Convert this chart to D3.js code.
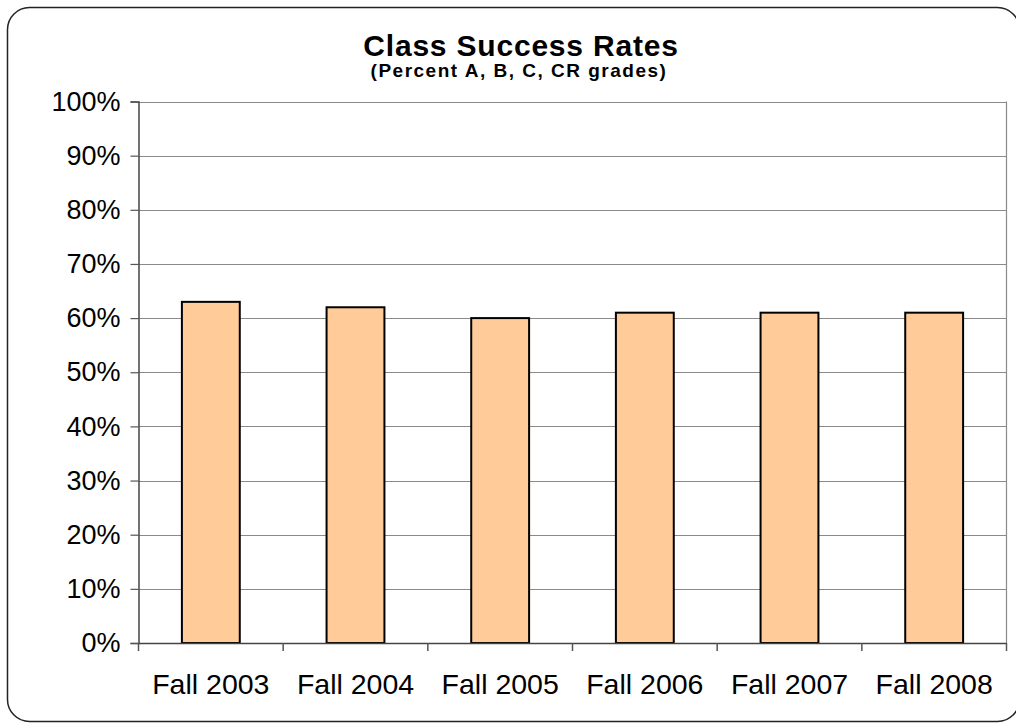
<!DOCTYPE html>
<html>
<head>
<meta charset="utf-8">
<script src="https://cdn.jsdelivr.net/npm/d3@7"></script>
<style>
  html, body { margin: 0; padding: 0; background: #fff; }
  svg { display: block; font-family: "Liberation Sans", Arial, Helvetica, sans-serif; }
</style>
</head>
<body>
<svg id="chart" width="1016" height="723"></svg>
<script>
const categories = ["Fall 2003", "Fall 2004", "Fall 2005", "Fall 2006", "Fall 2007", "Fall 2008"];
const successRates = [0.63, 0.62, 0.60, 0.61, 0.61, 0.61];
const yTicks = [0, 0.1, 0.2, 0.3, 0.4, 0.5, 0.6, 0.7, 0.8, 0.9, 1.0];
const titleText = "Class Success Rates";
const subtitleText = "(Percent A, B, C, CR grades)";

const svg = d3.select("#chart");
const plot = { left: 138.5, right: 1006.5, top: 101.5, bottom: 643 };

// outer rounded frame
svg.append("rect")
  .attr("x", 7.5).attr("y", 7.5)
  .attr("width", 1012).attr("height", 714)
  .attr("rx", 22).attr("ry", 22)
  .attr("fill", "#fff").attr("stroke", "#222").attr("stroke-width", 1.5);

const x = d3.scaleBand().domain(categories)
  .range([plot.left, plot.right]).paddingInner(0.6).paddingOuter(0.3);
const xOuter = d3.scaleBand().domain(categories)
  .range([plot.left, plot.right]).padding(0);
const y = d3.scaleLinear().domain([0, 1]).range([plot.bottom, plot.top]);

// gridlines
svg.append("g").selectAll("line").data(yTicks.filter(d => d > 0)).join("line")
  .attr("x1", plot.left).attr("x2", plot.right)
  .attr("y1", d => Math.round(y(d)) + 0.5).attr("y2", d => Math.round(y(d)) + 0.5)
  .attr("stroke", "#8a8a8a").attr("stroke-width", 1.2);

// right border of plot area
svg.append("line")
  .attr("x1", plot.right).attr("x2", plot.right)
  .attr("y1", plot.top).attr("y2", plot.bottom)
  .attr("stroke", "#8a8a8a").attr("stroke-width", 1.2);

// bars
svg.append("g").selectAll("rect").data(successRates).join("rect")
  .attr("x", (d, i) => x(categories[i]))
  .attr("y", d => y(d))
  .attr("width", x.bandwidth())
  .attr("height", d => y(0) - y(d))
  .attr("fill", "#FFCC99")
  .attr("stroke", "#000").attr("stroke-width", 2);

// y axis
const yAxis = d3.axisLeft(y).tickValues(yTicks).tickFormat(d3.format(".0%"))
  .tickSize(8).tickPadding(10);
const gy = svg.append("g").attr("transform", `translate(${plot.left},0)`).call(yAxis);
gy.select(".domain").attr("stroke", "#444").attr("stroke-width", 1.5);
gy.selectAll(".tick line").attr("stroke", "#555").attr("stroke-width", 1.2);
gy.selectAll(".tick text").attr("font-size", 27).attr("fill", "#000")
  .attr("font-family", "Liberation Sans, Arial, sans-serif");

// x axis (ticks between categories)
const xAxis = d3.axisBottom(xOuter).tickSize(0).tickPadding(31);
const gx = svg.append("g").attr("transform", `translate(0,${plot.bottom})`).call(xAxis);
gx.select(".domain").attr("stroke", "#444").attr("stroke-width", 1.5);
gx.selectAll(".tick text").attr("font-size", 28.5).attr("fill", "#000")
  .attr("font-family", "Liberation Sans, Arial, sans-serif");
const boundaries = categories.map(c => xOuter(c)).concat([plot.right]);
gx.append("g").selectAll("line").data(boundaries).join("line")
  .attr("x1", d => d).attr("x2", d => d)
  .attr("y1", 0).attr("y2", 8)
  .attr("stroke", "#555").attr("stroke-width", 1.5);

// titles
svg.append("text").attr("x", 521).attr("y", 56)
  .attr("text-anchor", "middle").attr("font-size", 30).attr("font-weight", "bold")
  .attr("letter-spacing", 0.8)
  .text(titleText);
svg.append("text").attr("x", 519).attr("y", 77)
  .attr("text-anchor", "middle").attr("font-size", 19).attr("font-weight", "bold")
  .attr("letter-spacing", 1.5)
  .text(subtitleText);
</script>
</body>
</html>
